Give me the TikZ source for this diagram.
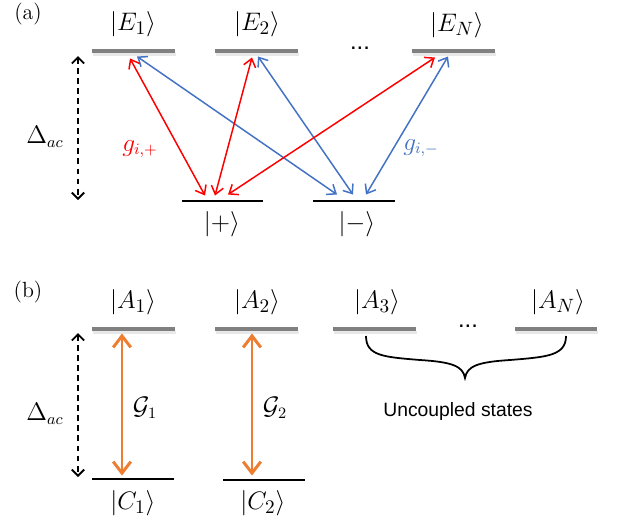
\documentclass[tikz,border=0pt]{standalone}
\usepackage{amsmath,amssymb}
\usepackage{fontspec}
\usepackage{xcolor}
\usepackage{tikz}
\usetikzlibrary{arrows.meta, positioning}
\usetikzlibrary{shadows}
\usetikzlibrary{calc}
\newfontfamily\arialfont{Liberation Sans}

\definecolor{lvlgray}{RGB}{128,128,128}
\definecolor{cpred}{RGB}{255,0,0}
\definecolor{cpblue}{RGB}{68,114,196}
\definecolor{cporange}{RGB}{237,125,49}

\tikzset{
    level/.style={rectangle, inner sep=0pt, minimum width=1.66cm, minimum height=0.065cm,
        fill=lvlgray, drop shadow={shadow xshift=0.02cm, shadow yshift=-0.07cm, opacity=0.18}},
    ground/.style={rectangle, inner sep=0pt, minimum width=1.64cm, minimum height=0.045cm, fill=black},
    ket/.style={inner sep=1pt, font=\fontsize{15}{18}\selectfont},
    lbl/.style={inner sep=1pt, font=\fontsize{13.5}{16}\selectfont},
    panel/.style={inner sep=0pt, font=\fontsize{12.5}{15}\selectfont},
    redarr/.style={cpred, line width=0.85pt, {Straight Barb[length=4.5pt,width=7pt]}-{Straight Barb[length=4.5pt,width=7pt]}},
    bluearr/.style={cpblue, line width=0.85pt, {Straight Barb[length=4.5pt,width=7pt]}-{Straight Barb[length=4.5pt,width=7pt]}},
    orangearr/.style={cporange, line width=1.7pt, {Straight Barb[length=6.5pt,width=10pt]}-{Straight Barb[length=6.5pt,width=10pt]}},
    deltaarr/.style={black, line width=1.1pt, dash pattern=on 3.4pt off 2.3pt,
        {Straight Barb[length=3.5pt,width=7pt]}-{Straight Barb[length=3.5pt,width=7pt]}},
}

\begin{document}
\begin{tikzpicture}[x=0.02cm, y=-0.02cm]
    \useasboundingbox (0,0) rectangle (622,525);

    % (a)
    \node[panel] (pa) at (28,14) {(a)};
    \node[level] (E1) at (133.5,51) {};
    \node[level] (E2) at (256.5,51) {};
    \node[level] (EN) at (453.5,51) {};
    \node[ground] (P) at (222.5,201) {};
    \node[ground] (M) at (354,201) {};
    \node[ket] (kE1) at (133,24) {$\lvert E_1\rangle$};
    \node[ket] (kE2) at (257,24) {$\lvert E_2\rangle$};
    \node[ket] (kEN) at (457,25) {$\lvert E_N\rangle$};
    \node[lbl] (dotsa) at (360,48) {\arialfont ...};
    \node[ket] (kP) at (222,224) {$\lvert +\rangle$};
    \node[ket] (kM) at (357,224) {$\lvert -\rangle$};
    \node[lbl] (da) at (45,137) {$\Delta_{ac}$};
    \node[lbl, text=cpred] (gp) at (140,149) {$g_{i,+}$};
    \node[lbl, text=cpblue] (gm) at (421,148) {$g_{i,-}$};
    \coordinate (datop) at (78,56);
    \coordinate (dabot) at (78,200);
    \draw[deltaarr] (datop) -- (dabot);
    \draw[bluearr] ($(E1.south)+(3.5,3.5)$) -- ($(M.north)+(-17,-5)$);
    \draw[bluearr] ($(E2.south)+(1.5,3.5)$) -- ($(M.north)+(-1,-5)$);
    \draw[bluearr] ($(EN.south)+(-5.5,3.5)$) -- ($(M.north)+(12,-5)$);
    \draw[redarr] ($(E1.south)+(-3.5,5.5)$) -- ($(P.north)+(-17.5,-4)$);
    \draw[redarr] ($(E2.south)+(-4.5,4.5)$) -- ($(P.north)+(-7.5,-4)$);
    \draw[redarr] ($(EN.south)+(-18.5,4.5)$) -- ($(P.north)+(5.5,-5)$);

    % (b)
    \node[panel] (pb) at (28,292) {(b)};
    \node[level] (A1) at (133.5,329) {};
    \node[level] (A2) at (256.5,329) {};
    \node[level] (A3) at (374.5,329) {};
    \node[level] (AN) at (556,329) {};
    \node[ground] (C1) at (133,479) {};
    \node[ground] (C2) at (264,480) {};
    \node[ket] (kA1) at (133,302) {$\lvert A_1\rangle$};
    \node[ket] (kA2) at (257,302) {$\lvert A_2\rangle$};
    \node[ket] (kA3) at (377,302) {$\lvert A_3\rangle$};
    \node[ket] (kAN) at (558,302) {$\lvert A_N\rangle$};
    \node[lbl] (dotsb) at (468,326) {\arialfont ...};
    \node[ket] (kC1) at (133,503) {$\lvert C_1\rangle$};
    \node[ket] (kC2) at (263,503) {$\lvert C_2\rangle$};
    \node[lbl] (db) at (45,414) {$\Delta_{ac}$};
    \node[lbl] (G1) at (145,408) {$\mathcal{G}_1$};
    \node[lbl] (G2) at (275,408) {$\mathcal{G}_2$};
    \node[inner sep=1pt, font=\arialfont\fontsize{11}{13}\selectfont] (unc) at (458,411) {Uncoupled states};
    \coordinate (dbtop) at (78,333);
    \coordinate (dbbot) at (78,477);
    \draw[deltaarr] (dbtop) -- (dbbot);
    \draw[orangearr] ($(A1.south)+(-11.5,2.5)$) -- ($(C1.north)+(-11,-2)$);
    \draw[orangearr] ($(A2.south)+(-4.5,2.5)$) -- ($(C2.north)+(-12,-3)$);
    % brace under the uncoupled states
    \draw[line width=1pt] (366,336) .. controls (366,356) and (384,357) .. (420,360)
        .. controls (452,362) and (463,366) .. (465,378)
        .. controls (467,366) and (478,362) .. (510,360)
        .. controls (546,357) and (566,356) .. (566,336);
\end{tikzpicture}
\end{document}
